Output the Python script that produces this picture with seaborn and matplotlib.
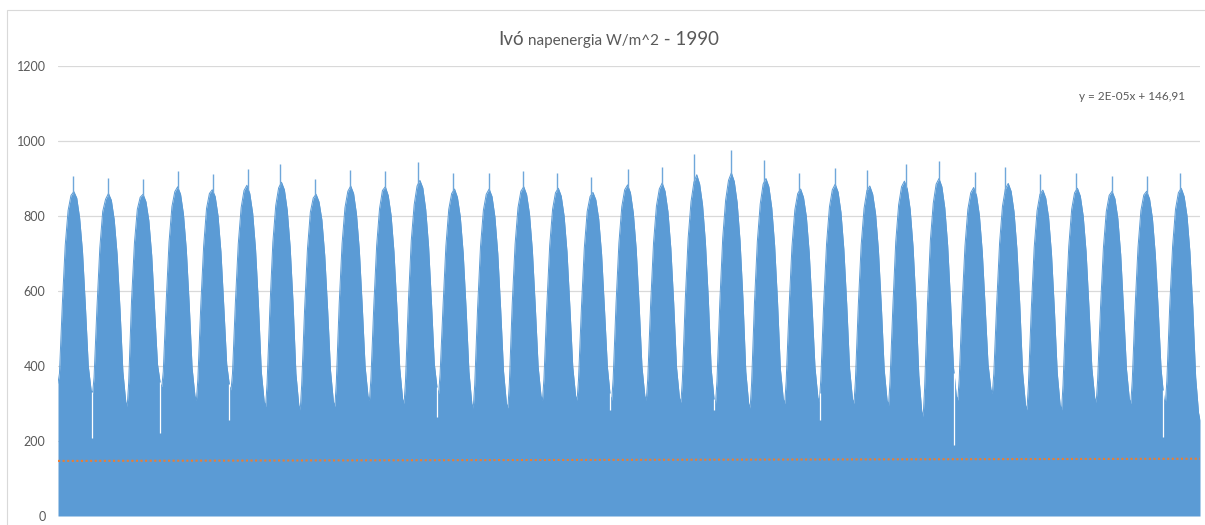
import numpy as np
import pandas as pd
import matplotlib
matplotlib.use("Agg")
import matplotlib.pyplot as plt
from matplotlib.patches import Rectangle
import seaborn as sns

# ---------------- data ----------------
years = list(range(1990, 2023))  # 33 yearly cycles

# solar irradiance envelope at year boundaries (Jan 1 of each year + end)
boundary = [354, 327, 292, 345, 309, 336, 292, 283, 292, 309, 300, 327, 288, 288, 309, 309, 309,
            309, 303, 300, 288, 300, 305, 300, 295, 265, 309, 327, 283, 283, 303, 300, 300, 256]

# mid-month envelope values per year (W/m^2)
jan = [380, 370, 355, 385, 365, 380, 355, 350, 355, 365, 360, 380, 350, 352, 365, 365, 365,
       365, 362, 360, 352, 360, 362, 360, 358, 340, 365, 380, 350, 350, 362, 360, 360]
feb = [565, 555, 575, 570, 560, 568, 560, 550, 565, 560, 572, 558, 555, 565, 560, 555, 566,
       565, 575, 572, 568, 556, 564, 560, 560, 565, 562, 566, 552, 556, 556, 558, 560]
mar = [722, 715, 728, 730, 720, 725, 730, 712, 726, 722, 735, 720, 718, 725, 722, 715, 728,
       728, 740, 742, 732, 718, 726, 722, 732, 735, 720, 728, 716, 720, 715, 716, 720]
apr = [815, 812, 818, 825, 820, 822, 828, 810, 822, 820, 830, 818, 815, 822, 818, 812, 825,
       826, 838, 842, 832, 816, 824, 820, 830, 834, 818, 826, 814, 818, 812, 814, 818]
may = [855, 845, 850, 865, 860, 868, 875, 848, 866, 868, 880, 860, 858, 866, 862, 852, 870,
       872, 890, 895, 885, 860, 870, 868, 878, 885, 862, 872, 858, 862, 855, 856, 862]
jun = [865, 860, 858, 878, 870, 882, 890, 858, 880, 878, 895, 872, 872, 878, 874, 863, 883,
       888, 910, 915, 900, 872, 885, 880, 893, 900, 876, 887, 869, 874, 866, 866, 874]
jul = [848, 842, 838, 858, 852, 860, 870, 838, 860, 855, 875, 850, 852, 857, 853, 843, 862,
       866, 885, 892, 878, 850, 864, 858, 872, 878, 855, 866, 848, 853, 846, 846, 852]
aug = [795, 790, 788, 805, 800, 808, 815, 790, 805, 802, 818, 798, 798, 805, 800, 792, 808,
       812, 830, 836, 822, 798, 810, 806, 818, 822, 802, 812, 796, 800, 794, 794, 800]
sep = [705, 698, 695, 710, 705, 712, 718, 695, 708, 705, 720, 702, 700, 708, 705, 698, 712,
       715, 730, 735, 722, 702, 712, 708, 718, 722, 705, 714, 700, 705, 698, 698, 705]
oct_ = [560, 552, 550, 565, 558, 565, 570, 550, 560, 558, 570, 555, 552, 560, 558, 552, 565,
        568, 580, 582, 572, 555, 565, 560, 568, 572, 558, 565, 552, 556, 550, 552, 556]
nov = [400, 385, 405, 395, 405, 385, 380, 388, 398, 395, 405, 385, 385, 398, 398, 398, 398,
       395, 392, 385, 392, 396, 392, 390, 375, 398, 405, 382, 382, 395, 392, 392, 370]
dec = [335, 305, 352, 320, 345, 305, 296, 305, 320, 312, 338, 300, 300, 320, 320, 320, 320,
       315, 312, 300, 312, 316, 312, 308, 280, 320, 338, 296, 296, 315, 312, 312, 275]

# yearly maximum spike and its month position within the year
peak = [907, 902, 900, 920, 913, 925, 938, 900, 922, 920, 943, 914, 914, 920, 916, 905, 925,
        932, 965, 976, 949, 914, 927, 923, 938, 947, 918, 930, 911, 916, 908, 908, 916]
peak_month = [5.2, 5.3, 5.5, 5.6, 5.7, 5.9, 5.0, 5.1, 5.2, 5.4, 4.8, 5.0, 5.5, 5.2, 5.0, 4.8, 5.6,
              5.4, 4.6, 5.4, 4.8, 5.0, 5.4, 4.5, 6.1, 5.5, 6.0, 4.4, 4.5, 5.0, 5.5, 5.6, 5.1]

# isolated low days (month index from start of series, value)
dip_pos = [11.7, 35.4, 59.4, 131.4, 191.4, 227.5, 264.2, 310.7, 383.2]
dip_val = [207, 221, 256, 265, 283, 283, 256, 189, 210]

# linear trendline (x = hour index)
trend_slope = 2e-05
trend_intercept = 146.91
hours_per_month = 730.5

y_ticks = [0, 200, 400, 600, 800, 1000, 1200]

# ---------------- build table ----------------
months = [jan, feb, mar, apr, may, jun, jul, aug, sep, oct_, nov, dec]
rows = []
for i, yr in enumerate(years):
    rows.append((i * 12.0, boundary[i]))
    for m in range(12):
        rows.append((i * 12 + m + 0.5, months[m][i]))
rows.append((len(years) * 12.0, boundary[-1]))
env = pd.DataFrame(rows, columns=["month", "value"])

total_months = len(years) * 12
trend = pd.DataFrame({"month": [0, total_months]})
trend["value"] = trend_intercept + trend_slope * trend["month"] * hours_per_month

# ---------------- plot ----------------
sns.set_theme(style="white")
plt.rcParams["font.family"] = ["Lato", "DejaVu Sans"]

W, H = 1205, 525
fig = plt.figure(figsize=(W / 100, H / 100), dpi=100)
ax = fig.add_axes([58 / W, (H - 516) / H, (1200 - 58) / W, 450 / H])

blue = "#5B9BD5"
ax.fill_between(env["month"], 0, env["value"], color=blue, lw=0, zorder=2)
sns.lineplot(data=env, x="month", y="value", ax=ax, color=blue, lw=0.7, zorder=2)

# yearly tall spikes rising out of the envelope
spike_x = [i * 12 + pm for i, pm in enumerate(peak_month)]
spike_base = np.interp(spike_x, env["month"], env["value"]) - 5
ax.vlines(spike_x, spike_base, peak, color="#6FA7DA", lw=1.0, zorder=2)

# low-day dips (white gaps down into the envelope)
dip_top = np.interp(dip_pos, env["month"], env["value"])
ax.vlines(dip_pos, dip_val, dip_top, color="white", lw=0.9, zorder=3)

# trendline
sns.lineplot(data=trend, x="month", y="value", ax=ax, color="#ED7D31", lw=1.5,
             linestyle=(0, (1, 1.2)), zorder=4)

ax.set_xlim(0, total_months)
ax.set_ylim(0, 1200)
ax.set_yticks(y_ticks)
ax.set_yticklabels([str(t) for t in y_ticks])
ax.set_xticks([])
ax.set_xlabel("")
ax.set_ylabel("")
ax.grid(axis="y", color="#D9D9D9", lw=0.9, zorder=0)
ax.set_axisbelow(True)
for s in ax.spines.values():
    s.set_visible(False)
ax.tick_params(axis="y", length=0, pad=9, labelsize=9, labelcolor="#595959")

# chart-area border
fig.add_artist(Rectangle((7.5 / W, -0.1), 1.2, (H - 10) / H + 0.1, transform=fig.transFigure,
                         fill=False, ec="#D9D9D9", lw=0.8))

# title with mixed sizes
gray = "#595959"
parts = [("Ivó", 13.5), (" napenergia W/m^2", 11), (" - 1990", 13.5)]
base_y = (H - 45) / H
fig.canvas.draw()
renderer = fig.canvas.get_renderer()
texts = []
widths = []
for s, fs in parts:
    t = fig.text(0, base_y, s, fontsize=fs, color=gray, va="baseline", ha="left")
    bb = t.get_window_extent(renderer=renderer)
    texts.append(t)
    widths.append(bb.width)
total = sum(widths)
x0 = 609 - total / 2
for t, w in zip(texts, widths):
    t.set_x(x0 / W)
    x0 += w

fig.text(1185 / W, (H - 97) / H, "y = 2E-05x + 146,91", fontsize=8.5, color=gray,
         ha="right", va="center")

fig.savefig("out.png", dpi=100)
